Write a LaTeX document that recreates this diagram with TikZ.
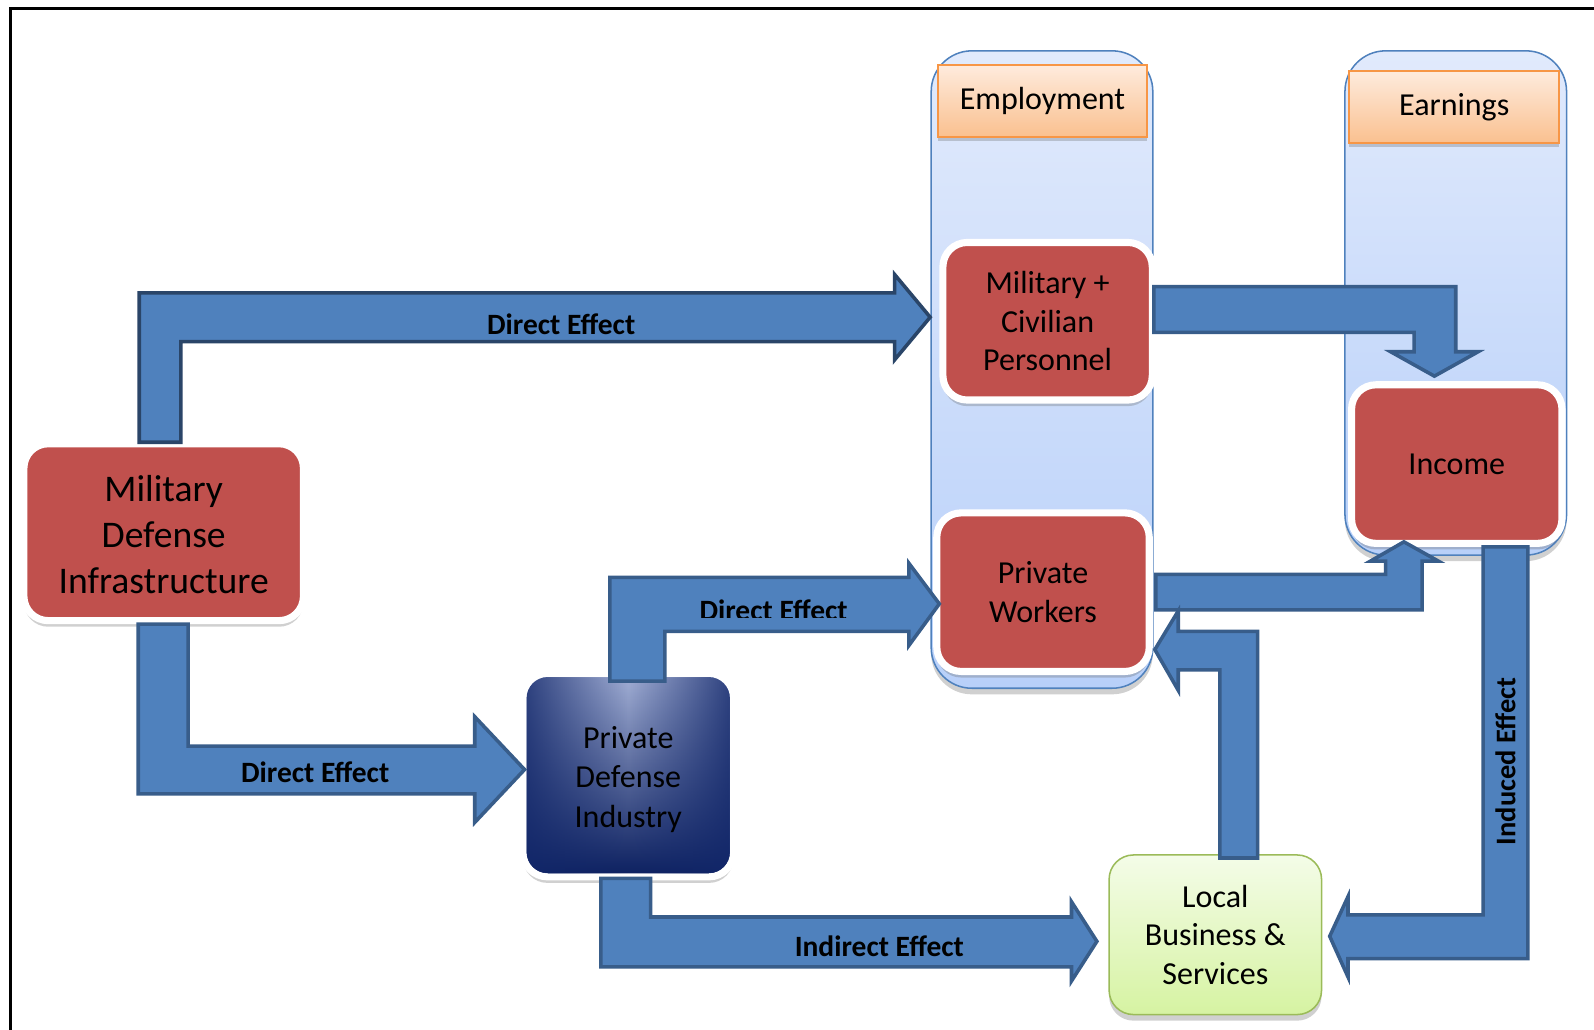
\documentclass[tikz,border=0pt]{standalone}
\usepackage{fontspec}
\setmainfont{Carlito}
\usetikzlibrary{shadows,fadings}
\definecolor{boxred}{HTML}{C0504D}
\definecolor{arrfill}{HTML}{4F81BD}
\definecolor{arrline}{HTML}{385D8A}
\definecolor{arrlinedark}{HTML}{2A4568}
\definecolor{colfillA}{HTML}{E1EAFC}
\definecolor{colfillB}{HTML}{B8D0F9}
\definecolor{colline}{HTML}{4F81BD}
\definecolor{hdrA}{HTML}{FEEBDD}
\definecolor{hdrB}{HTML}{FAC08F}
\definecolor{hdrline}{HTML}{F79646}
\definecolor{grnA}{HTML}{F4FCE8}
\definecolor{grnB}{HTML}{D6F3A2}
\definecolor{grnline}{HTML}{9BBB59}
\definecolor{navyA}{HTML}{A3B0D6}
\definecolor{navyM}{HTML}{5769A6}
\definecolor{navyB}{HTML}{0B1F5F}
\definecolor{navyC}{HTML}{12276A}
\tikzfading[name=fadesides, left color=transparent!0, right color=transparent!0, middle color=transparent!100]
\begin{document}
\begin{tikzpicture}[x=1pt,y=-1pt,
  shad/.style={drop shadow={shadow xshift=0pt, shadow yshift=-6pt, opacity=0.3, fill=black!60}},
  redbox/.style={rectangle, rounded corners=24pt, fill=boxred, draw=white, line width=7pt, inner sep=0pt, align=center, shad, font=\fontsize{31.5}{38}\selectfont},
  colbox/.style={rectangle, rounded corners=40pt, top color=colfillA, bottom color=colfillB, draw=colline, line width=1.5pt, inner sep=0pt, shad},
  hdrbox/.style={rectangle, top color=hdrA, bottom color=hdrB, draw=hdrline, line width=2pt, inner sep=0pt, font=\fontsize{31.5}{38}\selectfont, drop shadow={shadow xshift=0pt, shadow yshift=-4pt, opacity=0.3, fill=black!60}},
  pdibox/.style={rectangle, rounded corners=24pt, top color=navyA, middle color=navyM, bottom color=navyB, draw=white, line width=7pt, inner sep=0pt, shad},
  grnbox/.style={rectangle, rounded corners=24pt, top color=grnA, bottom color=grnB, draw=grnline, line width=1.5pt, inner sep=0pt, align=center, shad, font=\fontsize{31.5}{38}\selectfont},
  blockarrow/.style={fill=arrfill, draw=arrline, line width=3.5pt, line join=miter},
  efflabel/.style={font=\bfseries\fontsize{29}{34}\selectfont, inner sep=0pt, anchor=base},
  boxtext/.style={align=center, inner sep=0pt}
]
\useasboundingbox (0,0) rectangle (1568,1013);
\fill[white] (0,0) rectangle (1568,1013);
% frame
\draw[line width=3pt] (10,1013) -- (10,8) -- (1568,8);

% columns
\node[colbox, minimum width=218pt, minimum height=627pt] (empcol) at (1025,363.5) {};
\node[colbox, minimum width=218pt, minimum height=496pt] (earncol) at (1432,298) {};
\node[hdrbox, minimum width=205pt, minimum height=71pt] (emphdr) at (1025.5,99.5) {\raisebox{3.5pt}{Employment}};
\node[hdrbox, minimum width=207pt, minimum height=71pt] (earnhdr) at (1430.5,105.5) {\raisebox{2pt}{Earnings}};

% boxes
\node[redbox, minimum width=275pt, minimum height=174pt] (mdi) at (161,523.5) {};
\node[boxtext, font=\fontsize{37}{45}\selectfont] (mditext) at (161,526) {Military\\Defense\\Infrastructure};
\node[redbox, minimum width=206pt, minimum height=155pt] (mcp) at (1030.5,316) {Military +\\Civilian\\Personnel};
\node[redbox, minimum width=209pt, minimum height=156pt] (pw) at (1026,582.5) {Private\\Workers};
\node[redbox, minimum width=207pt, minimum height=156pt] (inc) at (1433,456.5) {\raisebox{-4.5pt}{Income}};
\node[pdibox, minimum width=207pt, minimum height=200pt] (pdi) at (618,762.5) {};
\path[fill=navyC, fill opacity=0.8, path fading=fadesides, rounded corners=21pt] (518,666) rectangle (718,859);
\node[boxtext, font=\fontsize{31.5}{39}\selectfont] (pditext) at (618,766.5) {Private\\Defense\\Industry};
\node[grnbox, minimum width=209pt, minimum height=157pt] (lbs) at (1195.5,919.5) {Local\\Business \&\\Services};

% arrows
\draw[blockarrow, draw=arrlinedark] (137,435) -- (137,288) -- (880,288) -- (880,270) -- (915,312) -- (880,354) -- (880,336) -- (178,336) -- (178,435) -- cycle;
\draw[blockarrow] (136,614) -- (136,781) -- (467,781) -- (467,809) -- (516,757) -- (467,705) -- (467,734) -- (185,734) -- (185,614) -- cycle;
\draw[blockarrow] (600,670) -- (600,568) -- (894,568) -- (894,554) -- (924,594) -- (894,635) -- (894,621) -- (654,621) -- (654,670) -- cycle;
\draw[blockarrow] (591,864) -- (591,951) -- (1054,951) -- (1054,965) -- (1079,926) -- (1054,887) -- (1054,902) -- (640,902) -- (640,864) -- cycle;
\draw[blockarrow] (1135,282) -- (1432,282) -- (1432,346) -- (1454,346) -- (1411,370) -- (1368,346) -- (1391,346) -- (1391,327) -- (1135,327) -- cycle;
\draw[blockarrow] (1137,565) -- (1363,565) -- (1363,552) -- (1348,552) -- (1381,533) -- (1415,552) -- (1399,552) -- (1399,600) -- (1137,600) -- cycle;
\draw[blockarrow] (1200,844) -- (1200,659) -- (1159,659) -- (1159,679) -- (1136,639) -- (1159,601) -- (1159,621) -- (1237,621) -- (1237,844) -- cycle;
\draw[blockarrow] (1459,538) -- (1503,538) -- (1503,943) -- (1326,943) -- (1326,961) -- (1308,921) -- (1326,882) -- (1326,900) -- (1459,900) -- cycle;

% labels
\node[efflabel] (l1) at (552,329) {Direct Effect};
\node[efflabel] (l2) at (310,770) {Direct Effect};
\begin{scope}
\clip (600,560) rectangle (900,607);
\node[efflabel] (l3) at (761,610) {Direct Effect};
\end{scope}
\node[efflabel] (l4) at (865,941) {Indirect Effect};
\node[font=\bfseries\fontsize{28}{33}\selectfont, inner sep=0pt, rotate=90] (l5) at (1481,749) {Induced Effect};
\end{tikzpicture}
\end{document}
